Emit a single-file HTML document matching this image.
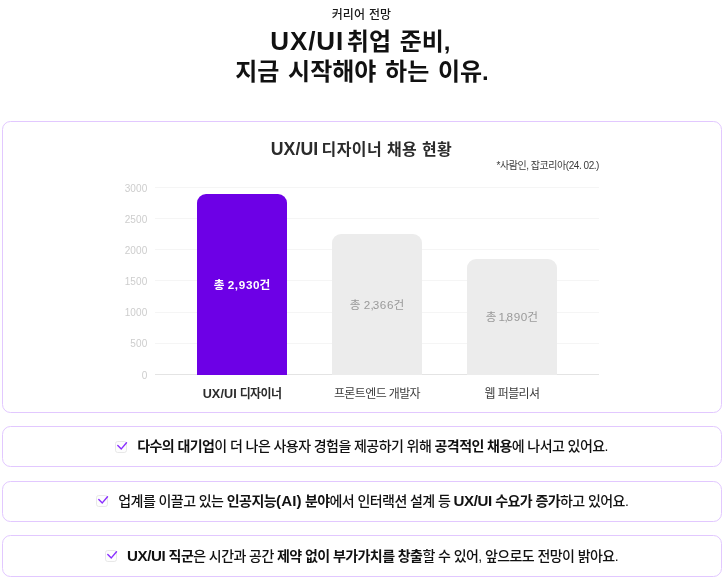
<!DOCTYPE html>
<html lang="ko">
<head>
<meta charset="utf-8">
<title>UX/UI 취업 준비</title>
<style>
*{box-sizing:border-box;margin:0;padding:0}
html,body{width:726px;height:580px;background:#fff;overflow:hidden}
body{font-family:"Liberation Sans","Noto Sans CJK KR",sans-serif;color:#111;position:relative}
.eyebrow{position:absolute;left:-1.5px;width:726px;top:6.5px;text-align:center;font-size:12px;line-height:16px;color:#1a1a1a;letter-spacing:0.2px;font-weight:500}
.h1{position:absolute;left:0;width:726px;text-align:center;font-size:24px;line-height:32px;font-weight:700;color:#111;letter-spacing:0;word-spacing:2px;white-space:nowrap}
.h1 .lat{font-size:26px;letter-spacing:0.9px;margin-right:-6px}
.card{position:absolute;left:2px;width:720px;border:1px solid #e2c8ff;border-radius:8.5px;background:#fff}
.chart-title{position:absolute;left:-1.5px;width:726px;top:138px;text-align:center;font-size:16px;line-height:22px;font-weight:700;color:#2b2b2b;letter-spacing:0.4px;white-space:nowrap}
.chart-title .lat{font-size:17.7px;letter-spacing:0.05px;margin-right:-1.5px}
.src{position:absolute;right:127px;top:159px;font-size:10px;line-height:14px;color:#3a3a3a;letter-spacing:-0.45px;white-space:nowrap}
.grid{position:absolute;left:155px;width:444px;height:1px;background:#f5f5f5}
.ylab{position:absolute;left:99.5px;width:48px;text-align:right;font-size:10px;line-height:12px;color:#cdcdcd;letter-spacing:0.15px}
.bar{position:absolute;width:90px;border-radius:9px 9px 0 0;background:#ececec;display:flex;align-items:center;justify-content:center;font-size:11.7px;color:#9a9a9a;letter-spacing:0;padding-bottom:2.2px;white-space:nowrap}
.bar .n{letter-spacing:0.65px;margin-right:-0.65px}
.bar .c{letter-spacing:-1.2px;margin-left:-0.3px}
.bar .one{letter-spacing:-0.2px;margin-left:-1.4px}
.bar.p{background:#6d00e6;color:#fff;font-weight:700}
.xlab{position:absolute;width:160px;text-align:center;top:386.2px;font-size:12px;line-height:16px;color:#3c3c3c;letter-spacing:-0.62px;white-space:nowrap}
.xlab .lat{font-size:12.6px;letter-spacing:0.15px}
.row{position:absolute;left:2px;width:720px;height:41px;border:1px solid #e2c8ff;border-radius:8.5px;display:flex;align-items:center;justify-content:center;font-size:14px;color:#111;letter-spacing:-0.57px;white-space:nowrap;font-weight:500}
.row b{font-weight:700}
.row>span{position:relative;top:-1.5px;left:-0.5px}
.row.r2>span{left:0.3px}
.row.r2 .chk{top:-1px;left:0}
.row.r3>span{top:-1.1px}
.row.r3 .chk{top:-0.8px}
.row .lat{font-size:15.1px;letter-spacing:-0.4px}
.row .lat2{font-size:15.1px;letter-spacing:0.1px}
.row .chk{position:relative;left:-1px}
.chk{width:12px;height:12px;margin-right:10px;margin-top:1px;flex:none;display:block;overflow:visible}
</style>
</head>
<body>
<div class="eyebrow">커리어 전망</div>
<div class="h1" style="top:25px;left:-2.6px"><span class="lat">UX/UI</span> 취업 준비,</div>
<div class="h1" style="top:56px;left:-1px">지금 시작해야 하는 이유.</div>

<div class="card" style="top:121px;height:292px"></div>
<div class="chart-title"><span class="lat">UX/UI</span> 디자이너 채용 현황</div>
<div class="src">*사람인, 잡코리아(24. 02.)</div>

<div class="grid" style="top:187px"></div>
<div class="grid" style="top:218px"></div>
<div class="grid" style="top:249px"></div>
<div class="grid" style="top:280px"></div>
<div class="grid" style="top:312px"></div>
<div class="grid" style="top:343px"></div>
<div class="grid" style="top:374px;background:#e4e4e4"></div>

<div class="ylab" style="top:183px">3000</div>
<div class="ylab" style="top:214px">2500</div>
<div class="ylab" style="top:245px">2000</div>
<div class="ylab" style="top:276px">1500</div>
<div class="ylab" style="top:307px">1000</div>
<div class="ylab" style="top:338px">500</div>
<div class="ylab" style="top:370px">0</div>

<div class="bar p" style="left:197px;top:194px;height:181px"><span>총 <span class="n">2,930</span>건</span></div>
<div class="bar" style="left:332px;top:234px;height:141px"><span>총 <span class="n">2<span class="c">,</span>366</span>건</span></div>
<div class="bar" style="left:467px;top:259px;height:116px"><span>총 <span class="n"><span class="one">1</span><span class="c">,</span>890</span>건</span></div>

<div class="xlab" style="left:162px;font-weight:700;color:#2b2b2b"><span class="lat">UX/UI</span> 디자이너</div>
<div class="xlab" style="left:297px">프론트엔드 개발자</div>
<div class="xlab" style="left:432px">웹 퍼블리셔</div>

<div class="row" style="top:426px"><svg class="chk" width="12" height="12" viewBox="0 0 12 12"><rect x="0.5" y="0.5" width="11" height="11" rx="2.2" fill="#fdfdfd" stroke="#e8e8e8"/><path d="M2.8 4.5L6.3 7.9L11.5 1.7" fill="none" stroke="#8a2eff" stroke-width="1.4" stroke-linecap="round" stroke-linejoin="round"/></svg><span><b>다수의 대기업</b>이 더 나은 사용자 경험을 제공하기 위해 <b>공격적인 채용</b>에 나서고 있어요.</span></div>
<div class="row r2" style="top:481px"><svg class="chk" width="12" height="12" viewBox="0 0 12 12"><rect x="0.5" y="0.5" width="11" height="11" rx="2.2" fill="#fdfdfd" stroke="#e8e8e8"/><path d="M2.8 4.5L6.3 7.9L11.5 1.7" fill="none" stroke="#8a2eff" stroke-width="1.4" stroke-linecap="round" stroke-linejoin="round"/></svg><span>업계를 이끌고 있는 <b>인공지능<span class="lat2">(AI)</span> 분야</b>에서 인터랙션 설계 등 <b><span class="lat">UX/UI</span> 수요가 증가</b>하고 있어요.</span></div>
<div class="row r3" style="top:535px;height:42px"><svg class="chk" width="12" height="12" viewBox="0 0 12 12"><rect x="0.5" y="0.5" width="11" height="11" rx="2.2" fill="#fdfdfd" stroke="#e8e8e8"/><path d="M2.8 4.5L6.3 7.9L11.5 1.7" fill="none" stroke="#8a2eff" stroke-width="1.4" stroke-linecap="round" stroke-linejoin="round"/></svg><span><b><span class="lat">UX/UI</span> 직군</b>은 시간과 공간 <b>제약 없이 부가가치를 창출</b>할 수 있어, 앞으로도 전망이 밝아요.</span></div>
</body>
</html>
